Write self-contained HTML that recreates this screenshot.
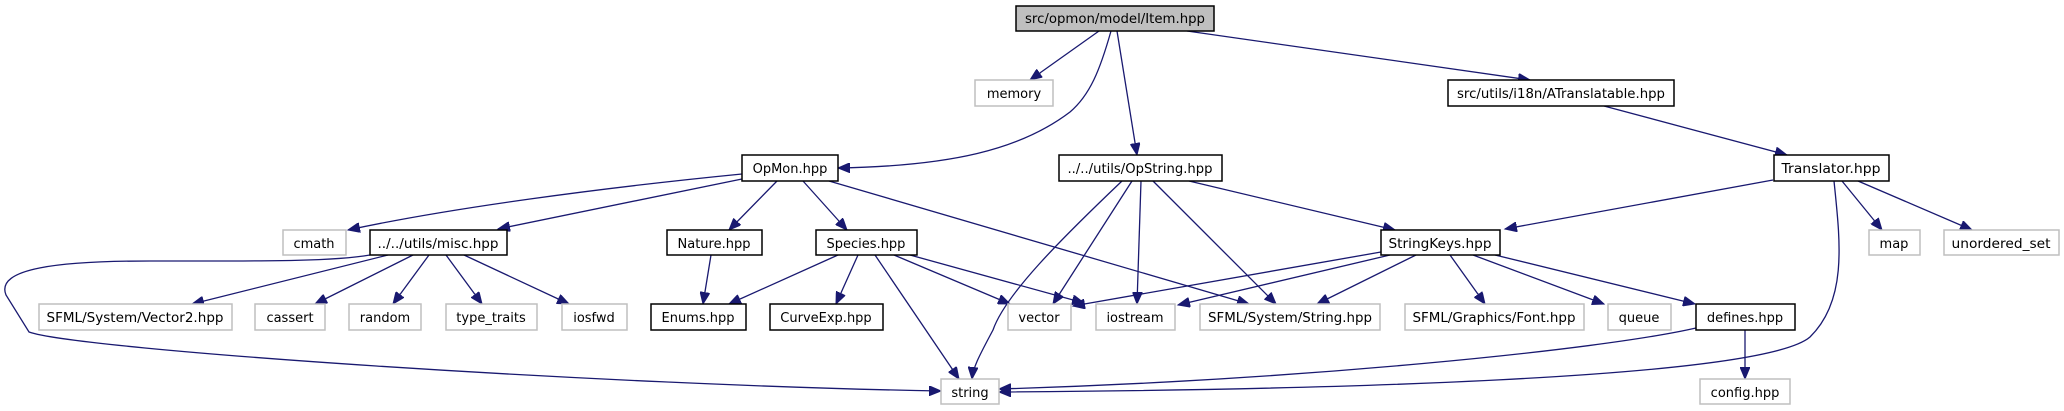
<!DOCTYPE html>
<html><head><meta charset="utf-8"><style>
html,body{margin:0;padding:0;background:#fff;width:2064px;height:411px;overflow:hidden}
svg{display:block}
text{font-family:"DejaVu Sans","Liberation Sans",sans-serif;font-size:13px;fill:#000;text-anchor:middle}
.d{fill:#fff;stroke:#000;stroke-width:1.5}
.e{fill:#fff;stroke:#bfbfbf;stroke-width:1.5}
.l{fill:none;stroke:#191970;stroke-width:1.3}
</style></head><body>
<svg width="2064" height="411" viewBox="0 0 2064 411" xmlns="http://www.w3.org/2000/svg">
<defs><marker id="a" markerUnits="userSpaceOnUse" markerWidth="14" markerHeight="10" refX="12" refY="5" orient="auto"><path d="M0,0 L12,5 L0,10 z" fill="#191970" stroke="#191970"/></marker></defs>
<g marker-end="url(#a)">
<path class="l" d="M1099,31 L1030,80"/>
<path class="l" d="M1111,31 C1100,70 1090,95 1070,112 C1020,150 950,166 838,168"/>
<path class="l" d="M1117,31 L1137,155"/>
<path class="l" d="M1187,31 L1530,80"/>
<path class="l" d="M1604,106 L1787,155"/>
<path class="l" d="M742,174 C600,188 450,208 348,230"/>
<path class="l" d="M742,179 L498,229"/>
<path class="l" d="M777,181 L729,230"/>
<path class="l" d="M803,181 L847,230"/>
<path class="l" d="M829,181 L1249,304"/>
<path class="l" d="M711,255 L703,304"/>
<path class="l" d="M838,255 L729,304"/>
<path class="l" d="M858,255 L836,304"/>
<path class="l" d="M875,255 L959,379"/>
<path class="l" d="M894,255 L1010,304"/>
<path class="l" d="M910,255 L1084,303"/>
<path class="l" d="M1122,181 C1060,240 1005,295 993,330 C978,358 973,368 972,379"/>
<path class="l" d="M1132,181 L1053,304"/>
<path class="l" d="M1141,181 L1137,304"/>
<path class="l" d="M1153,181 L1276,304"/>
<path class="l" d="M1189,181 L1395,230"/>
<path class="l" d="M1773,180 L1505,229"/>
<path class="l" d="M1842,181 L1882,230"/>
<path class="l" d="M1858,181 L1972,230"/>
<path class="l" d="M1834,181 C1840,240 1848,300 1810,337 C1760,380 1300,390 999,392"/>
<path class="l" d="M1381,252 L1073,306"/>
<path class="l" d="M1390,255 L1178,305"/>
<path class="l" d="M1416,255 L1317,304"/>
<path class="l" d="M1450,255 L1485,304"/>
<path class="l" d="M1473,255 L1604,304"/>
<path class="l" d="M1495,255 L1695,304"/>
<path class="l" d="M1696,328 C1600,350 1300,380 999,389"/>
<path class="l" d="M1745,330 L1745,379"/>
<path class="l" d="M388,255 L192,304"/>
<path class="l" d="M413,255 L315,304"/>
<path class="l" d="M429,255 L393,304"/>
<path class="l" d="M446,255 L482,304"/>
<path class="l" d="M464,255 L569,304"/>
<path class="l" d="M370,255 C330,262 250,261 150,261 C60,261 -5,268 6,295 L29,332 C80,350 600,385 941,391"/>
</g>
<rect x="1016" y="6" width="198" height="25" fill="#bfbfbf" stroke="#000" stroke-width="1.5"/><text x="1115" y="23" textLength="180" lengthAdjust="spacingAndGlyphs">src/opmon/model/Item.hpp</text>
<rect class="e" x="975" y="80" width="78" height="26"/><text x="1014" y="98">memory</text>
<rect class="d" x="1448" y="80" width="226" height="26"/><text x="1561" y="98" textLength="208" lengthAdjust="spacingAndGlyphs">src/utils/i18n/ATranslatable.hpp</text>
<rect class="d" x="742" y="155" width="96" height="26"/><text x="790" y="173">OpMon.hpp</text>
<rect class="d" x="1059" y="155" width="163" height="26"/><text x="1140" y="173" textLength="145" lengthAdjust="spacingAndGlyphs">../../utils/OpString.hpp</text>
<rect class="d" x="1774" y="155" width="115" height="26"/><text x="1831" y="173" textLength="99" lengthAdjust="spacingAndGlyphs">Translator.hpp</text>
<rect class="e" x="283" y="230" width="63" height="25"/><text x="314" y="248">cmath</text>
<rect class="d" x="370" y="230" width="137" height="25"/><text x="438" y="248" textLength="121" lengthAdjust="spacingAndGlyphs">../../utils/misc.hpp</text>
<rect class="d" x="667" y="230" width="95" height="25"/><text x="714" y="248">Nature.hpp</text>
<rect class="d" x="816" y="230" width="101" height="25"/><text x="866" y="248">Species.hpp</text>
<rect class="d" x="1381" y="230" width="119" height="25"/><text x="1440" y="248" textLength="103" lengthAdjust="spacingAndGlyphs">StringKeys.hpp</text>
<rect class="e" x="1869" y="230" width="51" height="25"/><text x="1894" y="248">map</text>
<rect class="e" x="1944" y="230" width="115" height="25"/><text x="2001" y="248" textLength="99" lengthAdjust="spacingAndGlyphs">unordered_set</text>
<rect class="e" x="39" y="304" width="193" height="26"/><text x="135" y="322" textLength="177" lengthAdjust="spacingAndGlyphs">SFML/System/Vector2.hpp</text>
<rect class="e" x="255" y="304" width="70" height="26"/><text x="290" y="322">cassert</text>
<rect class="e" x="349" y="304" width="72" height="26"/><text x="385" y="322">random</text>
<rect class="e" x="446" y="304" width="91" height="26"/><text x="491" y="322">type_traits</text>
<rect class="e" x="562" y="304" width="65" height="26"/><text x="594" y="322">iosfwd</text>
<rect class="d" x="651" y="304" width="95" height="26"/><text x="698" y="322">Enums.hpp</text>
<rect class="d" x="770" y="304" width="113" height="26"/><text x="826" y="322">CurveExp.hpp</text>
<rect class="e" x="1008" y="304" width="63" height="26"/><text x="1039" y="322">vector</text>
<rect class="e" x="1096" y="304" width="79" height="26"/><text x="1135" y="322">iostream</text>
<rect class="e" x="1200" y="304" width="180" height="26"/><text x="1290" y="322" textLength="164" lengthAdjust="spacingAndGlyphs">SFML/System/String.hpp</text>
<rect class="e" x="1405" y="304" width="179" height="26"/><text x="1494" y="322" textLength="163" lengthAdjust="spacingAndGlyphs">SFML/Graphics/Font.hpp</text>
<rect class="e" x="1608" y="304" width="63" height="26"/><text x="1639" y="322">queue</text>
<rect class="d" x="1696" y="304" width="99" height="26"/><text x="1745" y="322">defines.hpp</text>
<rect class="e" x="941" y="379" width="58" height="25"/><text x="970" y="397">string</text>
<rect class="e" x="1700" y="379" width="90" height="25"/><text x="1745" y="397">config.hpp</text>
</svg>
</body></html>
